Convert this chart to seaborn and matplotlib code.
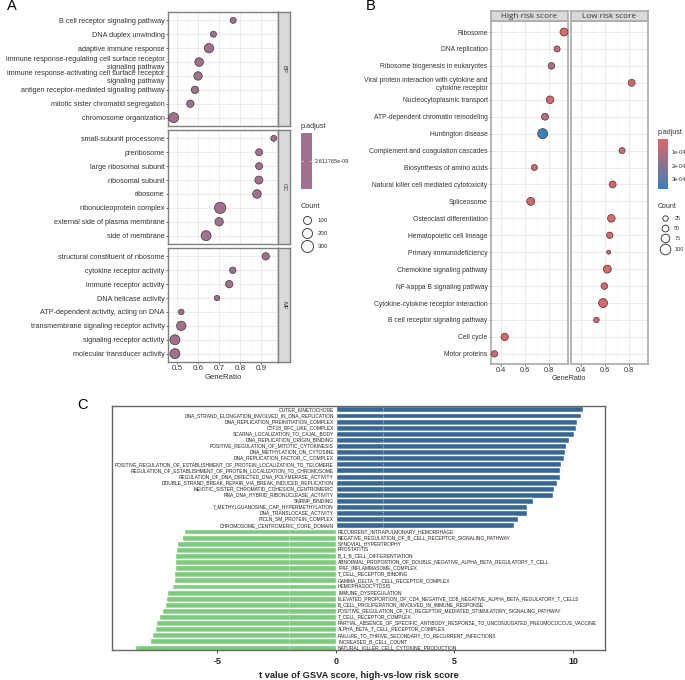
import numpy as np
import pandas as pd
import matplotlib
matplotlib.use("Agg")
import matplotlib.pyplot as plt
import seaborn as sns
from matplotlib.colors import LinearSegmentedColormap, Normalize
from matplotlib.cm import ScalarMappable
from matplotlib.lines import Line2D

sns.set_theme(style="white")
plt.rcParams['font.family'] = ['Liberation Sans', 'DejaVu Sans']
plt.rcParams['axes.unicode_minus'] = False

# ===== panel A =====
bp_terms = ["B cell receptor signaling pathway", "DNA duplex unwinding", "adaptive immune response",
            "immune response-regulating cell surface receptor\nsignaling pathway",
            "immune response-activating cell surface receptor\nsignaling pathway",
            "antigen receptor-mediated signaling pathway", "mitotic sister chromatid segregation",
            "chromosome organization"]
bp_ratio = [0.767, 0.673, 0.652, 0.605, 0.600, 0.585, 0.563, 0.484]
bp_count = [32, 32, 160, 125, 117, 78, 78, 190]

cc_terms = ["small-subunit processome", "preribosome", "large ribosomal subunit", "ribosomal subunit",
            "ribosome", "ribonucleoprotein complex", "external side of plasma membrane", "side of membrane"]
cc_ratio = [0.960, 0.890, 0.890, 0.889, 0.880, 0.705, 0.700, 0.638]
cc_count = [32, 64, 64, 100, 125, 262, 117, 190]

mf_terms = ["structural constituent of ribosome", "cytokine receptor activity", "immune receptor activity",
            "DNA helicase activity", "ATP-dependent activity, acting on DNA",
            "transmembrane signaling receptor activity", "signaling receptor activity",
            "molecular transducer activity"]
mf_ratio = [0.922, 0.765, 0.748, 0.690, 0.520, 0.520, 0.490, 0.490]
mf_count = [78, 44, 78, 15, 21, 160, 190, 190]

a_groups = ["BP", "CC", "MF"]
a_ticks = [0.5, 0.6, 0.7, 0.8, 0.9]
a_legend_counts = [100, 200, 300]

# ===== panel B =====
b_terms = ["Ribosome", "DNA replication", "Ribosome biogenesis in eukaryotes",
           "Viral protein interaction with cytokine and\ncytokine receptor", "Nucleocytoplasmic transport",
           "ATP-dependent chromatin remodeling", "Huntington disease", "Complement and coagulation cascades",
           "Biosynthesis of amino acids", "Natural killer cell mediated cytotoxicity", "Spliceosome",
           "Osteoclast differentiation", "Hematopoietic cell lineage", "Primary immunodeficiency",
           "Chemokine signaling pathway", "NF-kappa B signaling pathway", "Cytokine-cytokine receptor interaction",
           "B cell receptor signaling pathway", "Cell cycle", "Motor proteins"]
b_ratio = [0.923, 0.866, 0.819, 0.821, 0.808, 0.766, 0.747, 0.742, 0.678, 0.664,
           0.648, 0.653, 0.640, 0.631, 0.620, 0.596, 0.585, 0.530, 0.433, 0.348]
b_count = [57, 32, 39, 43, 52, 43, 91, 32, 32, 43, 57, 52, 36, 13, 57, 39, 73, 27, 48, 36]
b_padj = [0.1e-4, 0.6e-4, 1.2e-4, 0.3e-4, 0.3e-4, 0.9e-4, 3.7e-4, 0.2e-4, 0.3e-4, 0.2e-4,
          0.2e-4, 0.1e-4, 0.1e-4, 0.4e-4, 0.1e-4, 0.2e-4, 0.1e-4, 0.1e-4, 0.1e-4, 0.2e-4]
b_group = ["High risk score", "High risk score", "High risk score", "Low risk score", "High risk score",
           "High risk score", "High risk score", "Low risk score", "High risk score", "Low risk score",
           "High risk score", "Low risk score", "Low risk score", "Low risk score", "Low risk score",
           "Low risk score", "Low risk score", "Low risk score", "High risk score", "High risk score"]
b_ticks = [0.4, 0.6, 0.8]
b_legend_counts = [25, 50, 75, 100]
b_cbar_ticks = [1e-4, 2e-4, 3e-4]
b_cbar_labels = ["1e-04", "2e-04", "3e-04"]

# ===== panel C =====
c_up_terms = ["OUTER_KINETOCHORE", "DNA_STRAND_ELONGATION_INVOLVED_IN_DNA_REPLICATION",
              "DNA_REPLICATION_PREINITIATION_COMPLEX", "CTF18_RFC_LIKE_COMPLEX",
              "SCARNA_LOCALIZATION_TO_CAJAL_BODY", "DNA_REPLICATION_ORIGIN_BINDING",
              "POSITIVE_REGULATION_OF_MITOTIC_CYTOKINESIS", "DNA_METHYLATION_ON_CYTOSINE",
              "DNA_REPLICATION_FACTOR_C_COMPLEX",
              "POSITIVE_REGULATION_OF_ESTABLISHMENT_OF_PROTEIN_LOCALIZATION_TO_TELOMERE",
              "REGULATION_OF_ESTABLISHMENT_OF_PROTEIN_LOCALIZATION_TO_CHROMOSOME",
              "REGULATION_OF_DNA_DIRECTED_DNA_POLYMERASE_ACTIVITY",
              "DOUBLE_STRAND_BREAK_REPAIR_VIA_BREAK_INDUCED_REPLICATION",
              "MEIOTIC_SISTER_CHROMATID_COHESION_CENTROMERIC", "RNA_DNA_HYBRID_RIBONUCLEASE_ACTIVITY",
              "SNRNP_BINDING", "7_METHYLGUANOSINE_CAP_HYPERMETHYLATION", "DNA_TRANSLOCASE_ACTIVITY",
              "PICLN_SM_PROTEIN_COMPLEX", "CHROMOSOME_CENTROMERIC_CORE_DOMAIN"]
c_up_t = [10.41, 10.34, 10.15, 10.13, 10.03, 9.85, 9.70, 9.65, 9.62, 9.49,
          9.46, 9.46, 9.31, 9.20, 9.14, 8.31, 8.07, 8.05, 7.68, 7.49]
c_down_terms = ["RECURRENT_INTRAPULMONARY_HEMORRHAGE", "NEGATIVE_REGULATION_OF_B_CELL_RECEPTOR_SIGNALING_PATHWAY",
                "SYNOVIAL_HYPERTROPHY", "PROSTATITIS", "B_1_B_CELL_DIFFERENTIATION",
                "ABNORMAL_PROPORTION_OF_DOUBLE_NEGATIVE_ALPHA_BETA_REGULATORY_T_CELL", "IPAF_INFLAMMASOME_COMPLEX",
                "T_CELL_RECEPTOR_BINDING", "GAMMA_DELTA_T_CELL_RECEPTOR_COMPLEX", "HEMOPHAGOCYTOSIS",
                "IMMUNE_DYSREGULATION", "ELEVATED_PROPORTION_OF_CD4_NEGATIVE_CD8_NEGATIVE_ALPHA_BETA_REGULATORY_T_CELLS",
                "B_CELL_PROLIFERATION_INVOLVED_IN_IMMUNE_RESPONSE",
                "POSITIVE_REGULATION_OF_FC_RECEPTOR_MEDIATED_STIMULATORY_SIGNALING_PATHWAY",
                "T_CELL_RECEPTOR_COMPLEX",
                "PARTIAL_ABSENCE_OF_SPECIFIC_ANTIBODY_RESPONSE_TO_UNCONJUGATED_PNEUMOCOCCUS_VACCINE",
                "ALPHA_BETA_T_CELL_RECEPTOR_COMPLEX", "FAILURE_TO_THRIVE_SECONDARY_TO_RECURRENT_INFECTIONS",
                "INCREASED_B_CELL_COUNT", "NATURAL_KILLER_CELL_CYTOKINE_PRODUCTION"]
c_down_t = [-6.41, -6.50, -6.72, -6.74, -6.79, -6.79, -6.80, -6.84, -6.84, -6.92,
            -7.12, -7.17, -7.22, -7.34, -7.47, -7.61, -7.64, -7.75, -7.83, -8.50]
c_ticks = [-5, 0, 5, 10]

W, H = 685, 680
GREY = "#7f7f7f"
TXT = "#333333"
A_COL = "#A0708C"
RED = "#E06666"
BLUE = "#3B7FBF"
b_cmap = LinearSegmentedColormap.from_list("padj", [RED, BLUE])
b_norm = Normalize(0.02e-4, 3.75e-4)


def px_axes(fig, x0, y0, x1, y1):
    # pixel box, y from the top
    return fig.add_axes([x0 / W, 1 - y1 / H, (x1 - x0) / W, (y1 - y0) / H])


def frame(ax, color=GREY, lw=1.0):
    for s in ax.spines.values():
        s.set_visible(True)
        s.set_color(color)
        s.set_linewidth(lw)


def size_handles(counts, sizes):
    return [Line2D([], [], marker="o", ls="", mfc="white", mec="#444444", mew=0.7,
                   ms=np.sqrt(s), label=str(c)) for c, s in zip(counts, sizes)]


fig = plt.figure(figsize=(W / 100, H / 100), dpi=100)

# ----- A -----
a_boxes = [(12, 126), (130, 244), (248, 362)]
a_data = [(bp_terms, bp_ratio, bp_count), (cc_terms, cc_ratio, cc_count), (mf_terms, mf_ratio, mf_count)]
for i, (grp, box, (terms, ratio, count)) in enumerate(zip(a_groups, a_boxes, a_data)):
    ax = px_axes(fig, 168, box[0], 278, box[1])
    df = pd.DataFrame({"term": terms, "ratio": ratio, "count": count})
    sns.scatterplot(data=df, x="ratio", y="term", size="count", sizes=(12, 96), size_norm=(0, 400),
                    color=A_COL, edgecolor="#3a3a3a", linewidth=0.5, legend=False, ax=ax, zorder=3, clip_on=False)
    ax.set_xlim(0.457, 0.98)
    ax.set_ylim(7.6, -0.6)
    ax.set_xticks(a_ticks)
    ax.set_xticks([0.55, 0.65, 0.75, 0.85, 0.95], minor=True)
    ax.grid(True, which="major", color="#ebebeb", lw=0.7)
    ax.grid(True, which="minor", axis="x", color="#f3f3f3", lw=0.4)
    ax.set_axisbelow(True)
    frame(ax)
    ax.set_xlabel("")
    ax.set_ylabel("")
    ax.tick_params(axis="y", labelsize=5.25, length=1.5, width=0.5, pad=1, labelcolor=TXT, color=TXT, left=True)
    for lab in ax.get_yticklabels():
        lab.set_linespacing(1.2)
    if i == 2:
        ax.tick_params(axis="x", labelsize=5.8, length=1.5, width=0.5, pad=1, labelcolor=TXT, color=TXT, bottom=True)
        ax.set_xlabel("GeneRatio", fontsize=5.6, color=TXT, labelpad=1)
    else:
        ax.tick_params(axis="x", labelbottom=False, bottom=False)
    # facet strip
    st = px_axes(fig, 278, box[0], 290, box[1])
    st.set_facecolor("#d9d9d9")
    st.set_xticks([])
    st.set_yticks([])
    frame(st)
    st.text(0.5, 0.5, grp, rotation=-90, ha="center", va="center", fontsize=4.2, color=TXT, transform=st.transAxes)

fig.text(7 / W, 1 - 6 / H, "A", fontsize=10.5, color="black", ha="left", va="center")
fig.text(300.5 / W, 1 - 127 / H, "p.adjust", fontsize=5.3, color=TXT, ha="left", va="center")
cax = px_axes(fig, 301, 133, 312, 189)
cax.set_facecolor(A_COL)
cax.set_xticks([])
cax.set_yticks([0.5])
cax.set_ylim(0, 1)
cax.yaxis.tick_right()
cax.set_yticklabels(["2.611765e-09"], fontsize=4.1, color=TXT)
cax.tick_params(axis="y", length=0, pad=2.2, right=False)
cax.axhline(0.5, 0, 0.2, color="white", lw=0.4)
cax.axhline(0.5, 0.8, 1, color="white", lw=0.4)
for s in cax.spines.values():
    s.set_visible(False)
fig.text(301 / W, 1 - 207 / H, "Count", fontsize=5.3, color=TXT, ha="left", va="center")
fig.legend(handles=size_handles(a_legend_counts, [33, 52, 75]), loc="upper left",
           bbox_to_anchor=(298 / W, 1 - 215 / H), frameon=False, fontsize=4.4,
           handletextpad=0.7, labelspacing=1.25, borderpad=0, labelcolor=TXT)

# ----- B -----
b_df = pd.DataFrame({"term": b_terms, "ratio": b_ratio, "count": b_count, "padj": b_padj, "group": b_group})
b_boxes = [(491, 568), (571, 648)]
for i, (grp, box) in enumerate(zip(["High risk score", "Low risk score"], b_boxes)):
    ax = px_axes(fig, box[0], 21, box[1], 364)
    # both panels keep the full category order
    sub = b_df[b_df["group"] == grp].copy()
    sub["pos"] = [b_terms.index(t) for t in sub["term"]]
    sns.scatterplot(data=sub, x="ratio", y="pos", size="count", sizes=(1, 57), size_norm=(0, 100),
                    hue="padj", palette=b_cmap, hue_norm=b_norm, edgecolor="#3a3a3a", linewidth=0.5,
                    legend=False, ax=ax, zorder=3, clip_on=False)
    ax.set_yticks(range(len(b_terms)))
    ax.set_yticklabels(b_terms)
    ax.set_xlim(0.32, 0.956)
    ax.set_ylim(19.6, -0.65)
    ax.set_xticks(b_ticks)
    ax.set_xticks([0.5, 0.7, 0.9], minor=True)
    ax.grid(True, which="major", color="#ebebeb", lw=0.7)
    ax.grid(True, which="minor", axis="x", color="#f3f3f3", lw=0.4)
    ax.set_axisbelow(True)
    frame(ax, "#aaaaaa", 1.2)
    ax.set_xlabel("")
    ax.set_ylabel("")
    ax.tick_params(axis="x", labelsize=5.3, length=1.5, width=0.5, pad=1, labelcolor=TXT, color=TXT, bottom=True)
    if i == 0:
        ax.tick_params(axis="y", labelsize=4.9, length=1.5, width=0.5, pad=1, labelcolor=TXT, color=TXT, left=True)
        for lab in ax.get_yticklabels():
            lab.set_linespacing(1.2)
    else:
        ax.tick_params(axis="y", left=False, labelleft=False)
    st = px_axes(fig, box[0], 11, box[1], 21)
    st.set_facecolor("#d9d9d9")
    st.set_xticks([])
    st.set_yticks([])
    frame(st, "#aaaaaa", 1.2)
    st.text(0.5, 0.45, grp, ha="center", va="center", fontsize=5.9, color=TXT, transform=st.transAxes,
            family=["Open Sans", "DejaVu Sans"])

fig.text(569 / W, 1 - 379 / H, "GeneRatio", fontsize=5.2, color=TXT, ha="center", va="center")
fig.text(365.5 / W, 1 - 5.5 / H, "B", fontsize=10.5, color="black", ha="left", va="center")
fig.text(658 / W, 1 - 133 / H, "p.adjust", fontsize=5.0, color=TXT, ha="left", va="center")
cax = px_axes(fig, 658, 139, 668, 189)
cb = fig.colorbar(ScalarMappable(norm=b_norm, cmap=b_cmap), cax=cax)
cb.outline.set_visible(False)
cb.ax.invert_yaxis()
cb.set_ticks(b_cbar_ticks)
cb.set_ticklabels(b_cbar_labels)
cb.ax.tick_params(labelsize=4.0, length=0, pad=2.5, labelcolor=TXT)
fig.text(658 / W, 1 - 207 / H, "Count", fontsize=5.0, color=TXT, ha="left", va="center")
fig.legend(handles=size_handles(b_legend_counts, [15, 24, 38, 58]), loc="upper left",
           bbox_to_anchor=(657 / W, 1 - 213 / H), frameon=False, fontsize=4.0,
           handletextpad=0.6, labelspacing=0.95, borderpad=0, labelcolor=TXT)

# ----- C -----
ax = px_axes(fig, 112, 405.7, 605, 650)
c_terms = c_up_terms + c_down_terms
c_t = c_up_t + c_down_t
c_df = pd.DataFrame({"term": c_terms, "t": c_t, "dir": ["up"] * len(c_up_t) + ["down"] * len(c_down_t)})
sns.barplot(data=c_df, x="t", y="term", hue="dir", palette={"up": "#376796", "down": "#7ACB7B"},
            dodge=False, width=0.97, legend=False, ax=ax, saturation=1)
ax.set_xlim(-9.45, 11.35)
ax.set_ylim(39.4, -0.6)
ax.set_xticks(c_ticks)
ax.set_yticks([])
ax.set_xlabel("t value of GSVA score, high-vs-low risk score", fontsize=6.7, fontweight="bold", color="#222222", labelpad=4)
ax.set_ylabel("")
ax.tick_params(axis="x", labelsize=6.4, length=2, width=0.6, pad=3, bottom=True, labelcolor="#222222")
for lab in ax.get_xticklabels():
    lab.set_fontweight("bold")
frame(ax, "#666666", 1.0)
for x in [-2, 2]:
    ax.axvline(x, color="white", lw=0.6, ls=(0, (1, 1.5)), alpha=0.8, zorder=5)
for j, (term, val) in enumerate(zip(c_terms, c_t)):
    if val > 0:
        ax.text(-0.09, j, term, ha="right", va="center", fontsize=3.55, color="#222222", zorder=6)
    else:
        ax.text(0.09, j, term, ha="left", va="center", fontsize=3.55, color="#222222", zorder=6)
fig.text(77 / W, 1 - 405 / H, "C", fontsize=10.5, color="black", ha="left", va="center")

fig.savefig("out.png", dpi=100)
